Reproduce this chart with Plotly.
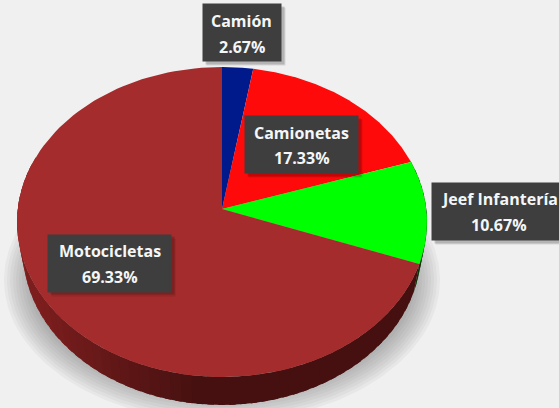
import numpy as np
import plotly.graph_objects as go

categories = ["Camión", "Camionetas", "Jeef Infantería", "Motocicletas"]
values = [2.67, 17.33, 10.67, 69.33]
colors = ["#001a8c", "#ff0a0a", "#00ff00", "#a52c2c"]
side_base = [(0, 8, 50), (110, 0, 0), (0, 90, 0), (125, 30, 30)]

W, H = 559, 408
CX, CY, RX, RY = 222, 222, 205, 155
APEX_Y = 209
DEPTH, BOTTOM_RX = 28, 0.972

def warp(a):
    # perspective: value angle -> ellipse parameter
    return a - np.radians(5) * np.sin(a)

def rim(a, rx=RX, ry=RY, cy=CY):
    t = warp(a)
    return CX + rx * np.sin(t), cy - ry * np.cos(t)

fig = go.Figure()

# soft shadow
for k in range(12):
    t = np.linspace(0, 2 * np.pi, 240)
    x = CX + (218 - (11 - k) * 3.0) * np.sin(t)
    y = 280 - (142 - (11 - k) * 3.0) * np.cos(t)
    fig.add_trace(go.Scatter(x=x, y=y, mode="lines", fill="toself", line=dict(width=0),
                             fillcolor="rgba(90,90,90,0.055)", hoverinfo="skip", showlegend=False))

# slice angles
edges = np.cumsum([0] + values) / sum(values) * 2 * np.pi

# side wall
for i in range(len(values)):
    a0, a1 = edges[i], edges[i + 1]
    n = max(2, int((a1 - a0) / 0.05))
    st = np.linspace(a0, a1, n + 1)
    for j in range(n):
        t = np.linspace(st[j], min(st[j + 1] + 0.03, a1), 5)
        tm = (st[j] + st[j + 1]) / 2
        if np.cos(tm) > 0.3:
            continue
        x1, y1 = rim(t)
        x2, y2 = rim(t[::-1], rx=RX * BOTTOM_RX, cy=CY + DEPTH)
        # lighting: darkest bottom-right, brighter towards the left
        light = np.clip(0.5 + 0.58 * (-np.sin(tm)), 0.56, 1.0)
        r, g, b = [min(255, int(c * light)) for c in side_base[i]]
        fig.add_trace(go.Scatter(x=np.r_[x1, x2], y=np.r_[y1, y2], mode="lines", fill="toself",
                                 line=dict(width=0), fillcolor=f"rgb({r},{g},{b})",
                                 hoverinfo="skip", showlegend=False))

# top surface
for i, name in enumerate(categories):
    t = np.linspace(edges[i], edges[i + 1], 120)
    x, y = rim(t)
    fig.add_trace(go.Scatter(x=np.r_[CX, x, CX], y=np.r_[APEX_Y, y, APEX_Y], mode="lines", fill="toself",
                             line=dict(width=0), fillcolor=colors[i], name=name,
                             hoverinfo="skip", showlegend=False))

# labels: box centre x, box centre y, box width, text centre x, line 1 y, line 2 y
boxes = [(242, 32.5, 78, 241.5, 21, 47), (301.5, 144.5, 113, 301.5, 133, 158),
         (496, 211.5, 128, 499, 199, 225), (109.5, 263, 123, 109.5, 251, 277)]
FONT = dict(family="Open Sans", size=16, color="#f4f6f8")
for i, (bx, by, bw, tx, y1, y2) in enumerate(boxes):
    for k, col in enumerate(["rgba(0,0,0,0.10)", "rgba(0,0,0,0.16)"]):
        off = 4 - k * 1.5
        fig.add_annotation(x=bx + off, y=by + off, text=" ", showarrow=False, width=bw, height=57,
                           bgcolor=col, borderpad=0, xref="x", yref="y")
    fig.add_annotation(x=bx, y=by, text=" ", showarrow=False, width=bw, height=57,
                       bgcolor="#3e3e3e", borderpad=0, xref="x", yref="y")
    fig.add_annotation(x=tx, y=y1, text=f"<b>{categories[i]}</b>", showarrow=False,
                       xref="x", yref="y", font=FONT)
    fig.add_annotation(x=tx, y=y2, text=f"<b>{values[i]:.2f}%</b>", showarrow=False,
                       xref="x", yref="y", font=FONT)

fig.update_layout(width=W, height=H, margin=dict(l=0, r=0, t=0, b=0),
                  paper_bgcolor="#f0f0f0", plot_bgcolor="#f0f0f0", showlegend=False,
                  xaxis=dict(range=[0, W], visible=False, fixedrange=True),
                  yaxis=dict(range=[H, 0], visible=False, fixedrange=True))
fig.write_html("out.html", config=dict(displayModeBar=False),
               post_script="document.body.style.margin='0';document.body.style.overflow='hidden';document.body.style.background='#f0f0f0';")
